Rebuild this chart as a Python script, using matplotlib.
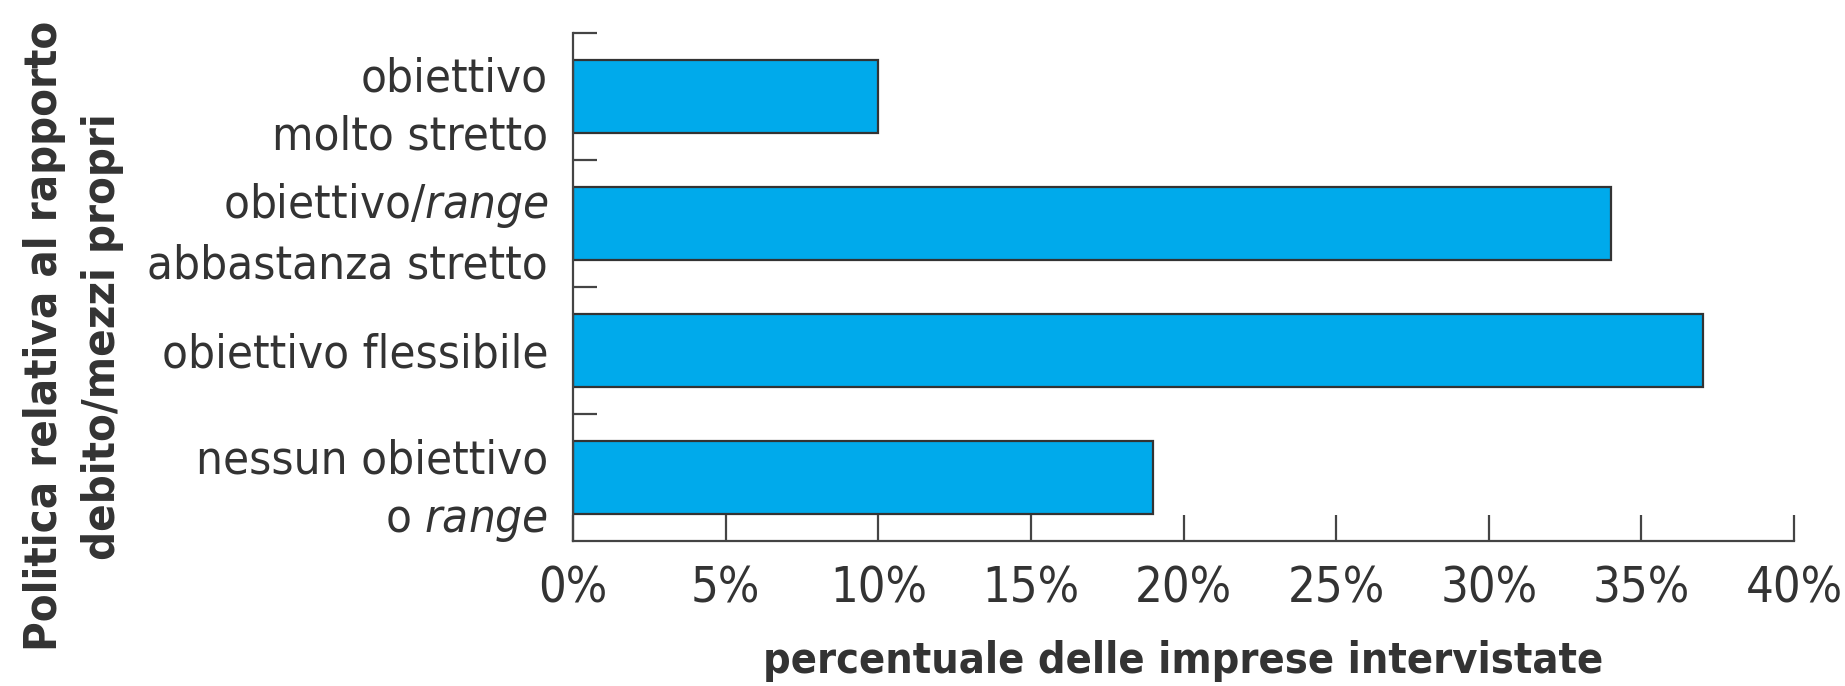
import numpy as np
import matplotlib.pyplot as plt

# DejaVu condensata (stile simile al carattere stretto dell'originale)
plt.rcParams['font.family'] = ['DejaVu Sans']
plt.rcParams['font.stretch'] = 'condensed'
plt.rcParams['mathtext.fontset'] = 'custom'
plt.rcParams['mathtext.rm'] = 'DejaVu Sans'
plt.rcParams['mathtext.it'] = 'DejaVu Sans:italic'

categorie = ['obiettivo\nmolto stretto',
             r'obiettivo/$\mathit{range}$' + '\nabbastanza stretto',
             'obiettivo flessibile',
             'nessun obiettivo\n' + r'o $\mathit{range}$']
valori = [10, 34, 37, 19]
xticks = [0, 5, 10, 15, 20, 25, 30, 35, 40]

col_barra = '#00AAEB'
col_testo = '#333333'
col_assi = '#444444'

fig = plt.figure(figsize=(18.45, 6.86), dpi=100)
ax = fig.add_axes([0.3106, 0.2114, 0.6618, 0.7405])

y = np.arange(len(categorie))
ax.barh(y, valori, height=0.57, color=col_barra, edgecolor='#333333', linewidth=1.6)
ax.set_ylim(len(categorie) - 0.5, -0.5)
ax.set_xlim(0, 40)

ax.set_yticks(y)
ax.set_yticklabels(categorie, fontsize=34, color=col_testo, linespacing=1.38)
ax.set_yticks(np.arange(len(categorie)) - 0.5, minor=True)
ax.tick_params(axis='y', which='major', length=0, pad=18)
ax.tick_params(axis='y', which='minor', direction='in', length=17, width=1.6, color=col_assi)

ax.set_xticks(xticks)
ax.set_xticklabels([f'{v}%' for v in xticks], fontsize=35, color=col_testo)
ax.tick_params(axis='x', direction='in', length=19, width=1.6, color=col_assi, pad=17)

for s in ['top', 'right']:
    ax.spines[s].set_visible(False)
for s in ['left', 'bottom']:
    ax.spines[s].set_color(col_assi)
    ax.spines[s].set_linewidth(1.6)

ax.set_xlabel('percentuale delle imprese intervistate', fontsize=31, fontweight='bold',
              color=col_testo, labelpad=20)
fig.text(0.040, 0.51, 'Politica relativa al rapporto\ndebito/mezzi propri', rotation=90,
         ha='center', va='center', fontsize=32.5, fontweight='bold', color=col_testo,
         linespacing=1.45)

fig.savefig('out.png', dpi=100, facecolor='white')
